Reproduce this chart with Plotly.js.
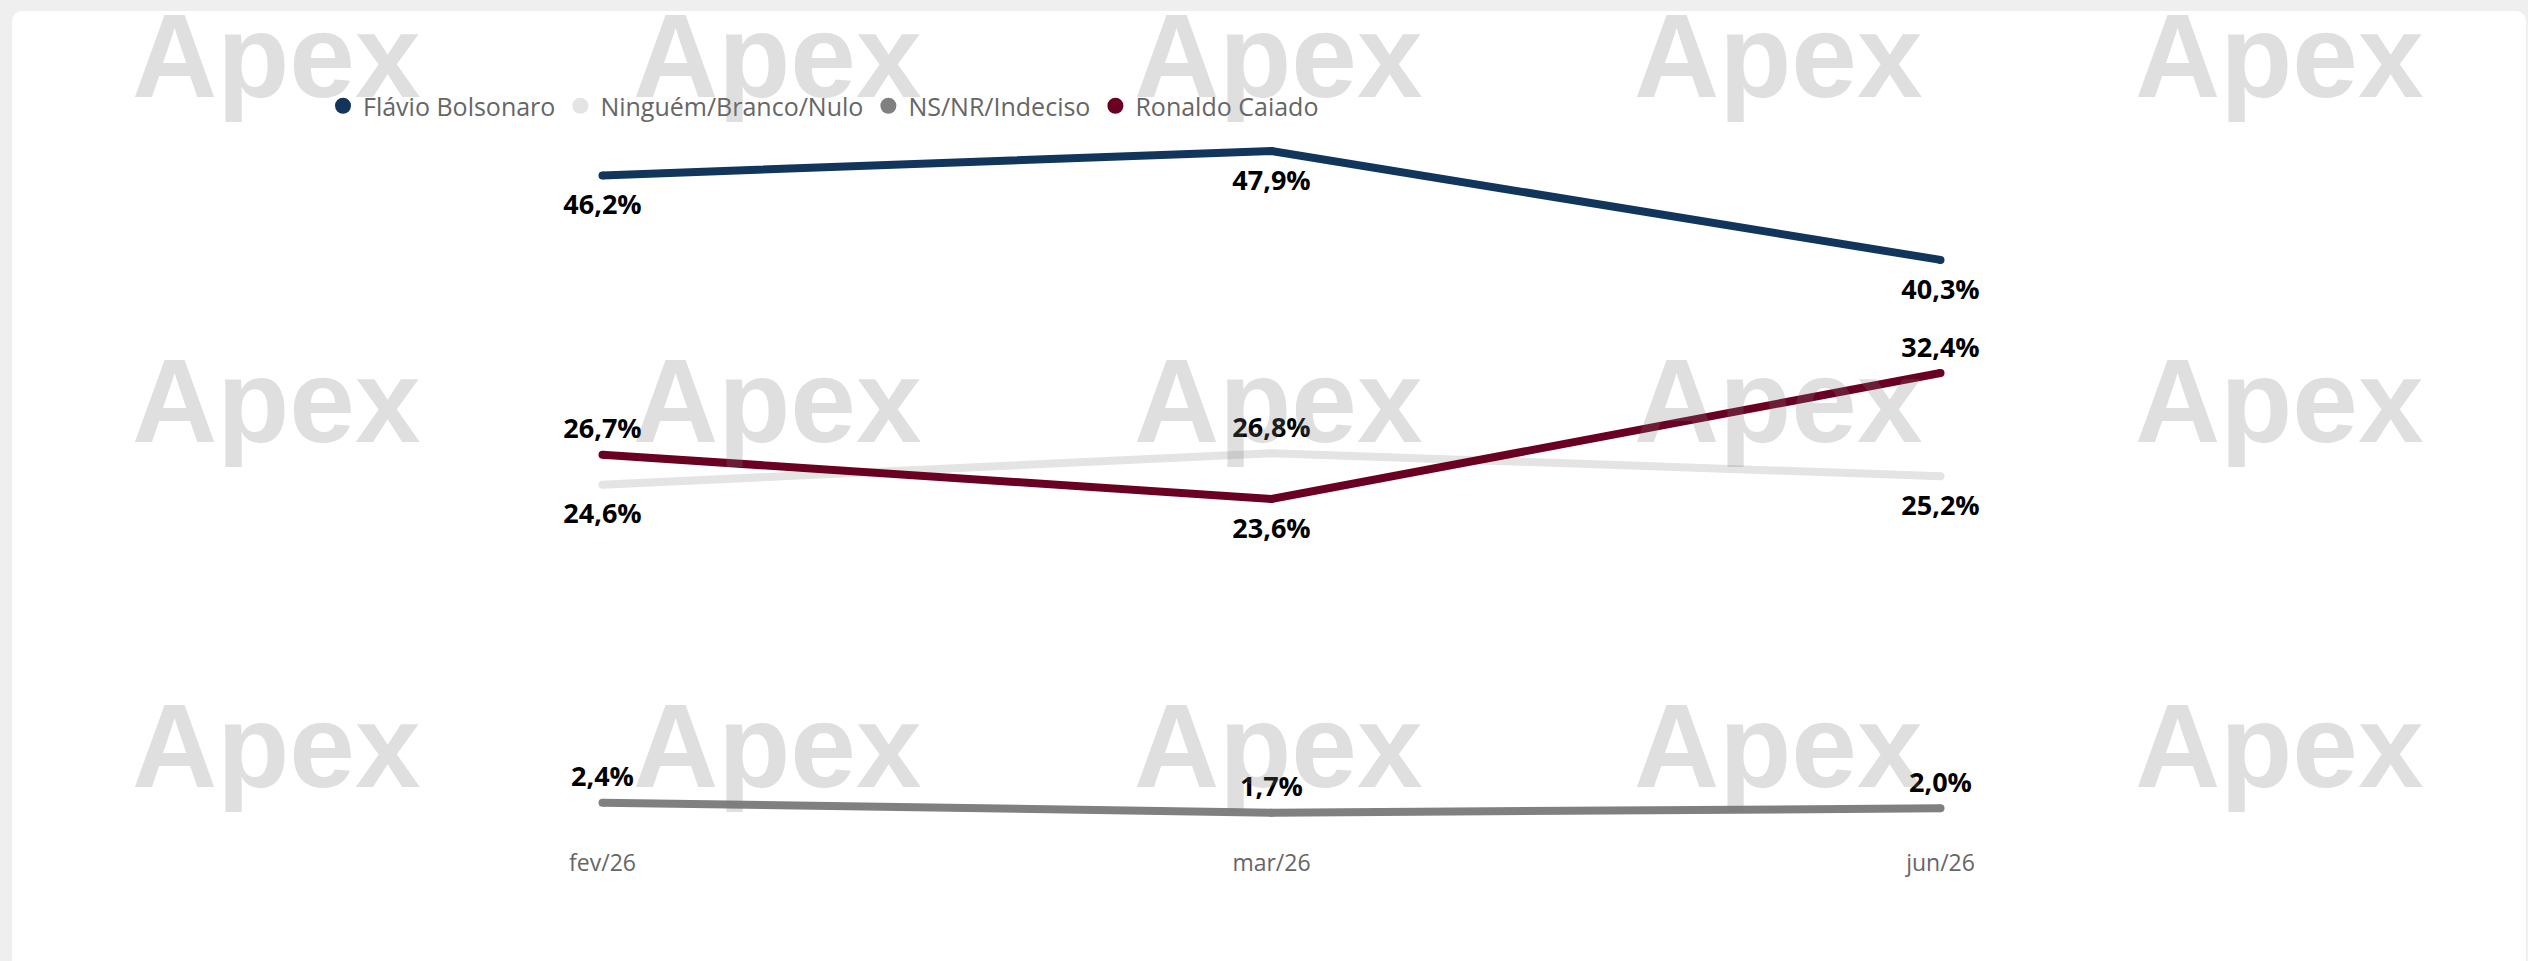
<!DOCTYPE html>
<html>
<head>
<meta charset="utf-8">
<script src="https://cdn.plot.ly/plotly-3.0.1.min.js"></script>
<style>
  html, body { margin: 0; padding: 0; width: 2528px; height: 961px; overflow: hidden; background: #efefef; }
  #card { position: absolute; left: 12px; top: 11px; width: 2514px; height: 990px; background: #ffffff; border-radius: 10px; }
  #chart { position: absolute; left: 0; top: 0; width: 2528px; height: 961px; }
</style>
</head>
<body>
<div id="card"></div>
<div id="chart"></div>
<script>
// ---- data ----
const categories = ['fev/26', 'mar/26', 'jun/26'];
const seriesNames = ['Flávio Bolsonaro', 'Ninguém/Branco/Nulo', 'NS/NR/Indeciso', 'Ronaldo Caiado'];
const flavio  = [46.2, 47.9, 40.3];
const ninguem = [24.6, 26.8, 25.2];
const nsnr    = [2.4, 1.7, 2.0];
const caiado  = [26.7, 23.6, 32.4];
const watermarkText = 'Apex';

// ---- styling ----
const colors = ['#12355b', '#e4e4e4', '#808080', '#6a0022'];
const labelPos = [
  ['bottom center', 'bottom center', 'bottom center'],
  ['bottom center', 'top center', 'bottom center'],
  ['top center', 'top center', 'top center'],
  ['top center', 'bottom center', 'top center']
];
const values = [flavio, ninguem, nsnr, caiado];
const fmt = v => v.toFixed(1).replace('.', ',') + '%';

const W = 2528, H = 961;
const M = { l: 268, r: 253, t: 121, b: 124 };
const PW = W - M.l - M.r, PH = H - M.t - M.b;
const px2x = px => (px - M.l) / PW;
const px2y = py => (H - M.b - py) / PH;

const traces = [];
values.forEach((vals, i) => {
  traces.push({
    type: 'scatter',
    x: categories,
    y: vals,
    name: seriesNames[i],
    mode: 'lines+markers',
    line: { color: colors[i], width: 8 },
    marker: { color: colors[i], size: 8, line: { width: 0 } },
    cliponaxis: false,
    showlegend: false,
    hoverinfo: 'skip'
  });
});
// data labels (transparent markers used to set the label offset)
values.forEach((vals, i) => {
  traces.push({
    type: 'scatter',
    x: categories,
    y: vals,
    name: seriesNames[i],
    mode: 'markers+text',
    marker: {
      color: 'rgba(0,0,0,0)',
      size: labelPos[i].map(p => p.startsWith('top') ? 14 : 28),
      line: { width: 0, color: 'rgba(0,0,0,0)' }
    },
    text: vals.map(fmt),
    textposition: labelPos[i],
    textfont: { family: 'Open Sans', size: 27, color: '#000000', weight: 'bold' },
    cliponaxis: false,
    showlegend: false,
    hoverinfo: 'skip'
  });
});
// legend entries (circle markers only)
seriesNames.forEach((n, i) => {
  traces.push({
    type: 'scatter', x: [null], y: [null], name: n, mode: 'markers',
    marker: { color: colors[i], size: 19, symbol: 'circle', line: { width: 0 } },
    showlegend: true, hoverinfo: 'skip'
  });
});

// watermark grid
const annotations = [];
const colCenters = [276, 777, 1278, 1778, 2279];
const rowMiddles = [55, 400, 745];
rowMiddles.forEach(ry => {
  colCenters.forEach(cx => {
    annotations.push({
      xref: 'paper', yref: 'paper',
      x: px2x(cx), y: px2y(ry + 1),
      xanchor: 'center', yanchor: 'middle',
      text: watermarkText, showarrow: false,
      font: { family: 'Liberation Sans, Arial, sans-serif', size: 118, weight: 'bold', color: 'rgba(120,120,120,0.24)' }
    });
  });
});

const layout = {
  width: W, height: H,
  margin: { l: M.l, r: M.r, t: M.t, b: M.b, pad: 0, autoexpand: false },
  paper_bgcolor: 'rgba(0,0,0,0)',
  plot_bgcolor: 'rgba(0,0,0,0)',
  xaxis: {
    type: 'category', range: [-0.5, 2.5],
    showgrid: false, zeroline: false, showline: false, ticks: '',
    tickfont: { family: 'Open Sans', size: 23, color: '#666666' },
    ticklabelstandoff: 10,
    fixedrange: true
  },
  yaxis: { range: [0, 50], visible: false, fixedrange: true },
  showlegend: true,
  legend: {
    orientation: 'h', xref: 'container', yref: 'container',
    x: 323 / W, xanchor: 'left', y: 1 - 106 / H, yanchor: 'middle',
    font: { family: 'Open Sans', size: 25, color: '#666666' },
    bgcolor: 'rgba(0,0,0,0)', itemclick: false, itemdoubleclick: false,
    traceorder: 'normal', itemwidth: 30
  },
  annotations: annotations
};

Plotly.newPlot('chart', traces, layout, { displayModeBar: false, staticPlot: true });
</script>
</body>
</html>
